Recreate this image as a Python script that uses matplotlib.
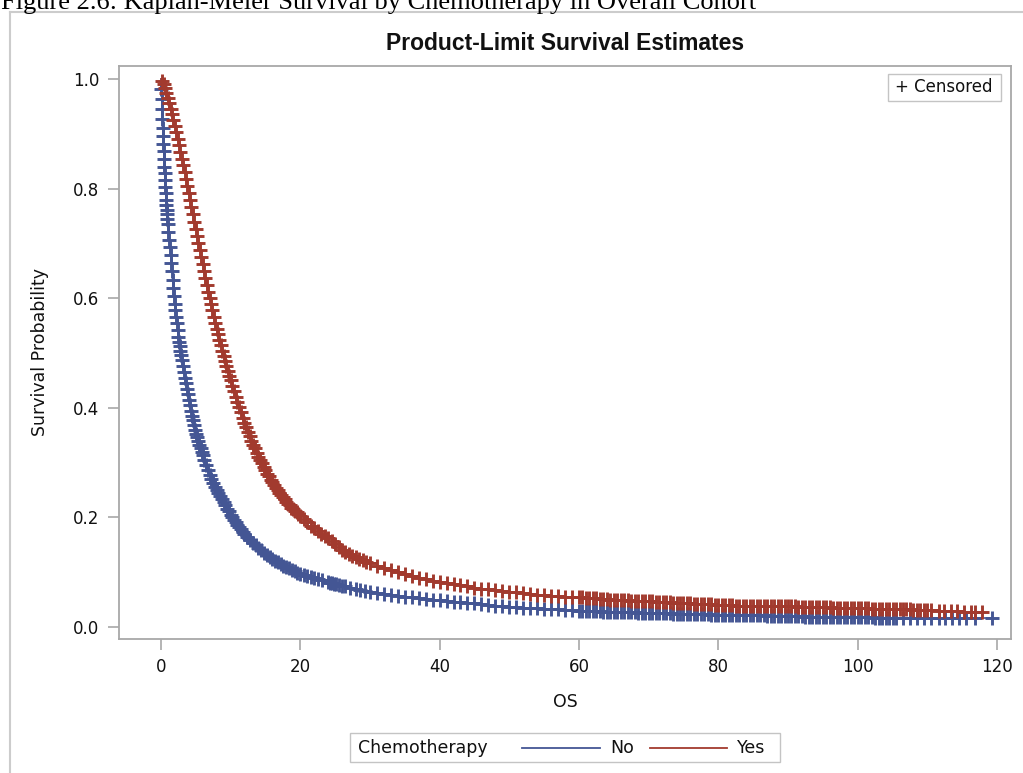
import numpy as np
import matplotlib.pyplot as plt
from matplotlib.lines import Line2D
from matplotlib.patches import Rectangle

# Kaplan-Meier estimates (months, survival)
no_time = [
    0.00, 0.05, 0.10, 0.15, 0.20, 0.25, 0.30, 0.35, 0.40, 0.45,
    0.50, 0.55, 0.60, 0.65, 0.70, 0.75, 0.80, 0.85, 0.90, 0.95,
    1.00, 1.1, 1.2, 1.3, 1.4, 1.5, 1.6, 1.7, 1.8, 1.9,
    2.0, 2.1, 2.2, 2.3, 2.4, 2.5, 2.6, 2.7, 2.8, 2.9,
    3.0, 3.15, 3.3, 3.45, 3.6, 3.75, 3.9, 4.05, 4.2, 4.35,
    4.5, 4.65, 4.8, 4.95, 5.1, 5.25, 5.4, 5.55, 5.7, 5.85,
    6.0, 6.25, 6.5, 6.75, 7.0, 7.25, 7.5, 7.75, 8.0, 8.25,
    8.5, 8.75, 9.0, 9.25, 9.5, 9.75, 10.0, 10.25, 10.5, 10.75,
    11.0, 11.25, 11.5, 11.75, 12.0, 12.4, 12.8, 13.2, 13.6, 14.0,
    14.4, 14.8, 15.2, 15.6, 16.0, 16.4, 16.8, 17.2, 17.6, 18.0,
    18.4, 18.8, 19.2, 19.6, 20.0, 20.5, 21.0, 21.6, 22.0, 22.5,
    23.2, 24.0, 24.3, 24.6, 24.9, 25.2, 25.6, 26.0, 26.5, 27.2,
    28.0, 28.6, 29.3, 30.0, 31, 32, 33, 34, 35, 36,
    37, 38, 39, 40, 41, 42, 43, 44, 45, 46,
    47, 48, 49, 50, 51, 52, 53, 54, 55, 56,
    57, 58, 59, 60, 60.5, 61, 61.5, 62, 62.5, 63,
    63.5, 64, 64.5, 65, 65.5, 66, 66.5, 67, 67.5, 68,
    68.5, 69, 69.5, 70, 70.5, 71, 71.5, 72, 72.5, 73,
    73.5, 74, 74.5, 75, 75.5, 76, 76.5, 77, 77.5, 78,
    78.5, 79, 79.5, 80, 80.5, 81, 81.5, 82, 82.5, 83,
    83.5, 84, 84.5, 85, 85.5, 86, 86.5, 87, 87.5, 88,
    88.5, 89, 89.5, 90, 90.5, 91, 91.5, 92, 92.5, 93,
    93.5, 94, 94.5, 95, 95.5, 96, 96.5, 97, 97.5, 98,
    98.5, 99, 99.5, 100, 100.5, 101, 101.5, 102, 102.5, 103,
    103.5, 104, 104.5, 105, 105.5, 106.5, 107.5, 108.5, 109.5, 110.5,
    111.7, 112.6, 113.6, 114.6, 115.5, 116.9, 119.3,
]
no_surv = [
    1.000, .982, .964, .946, .928, .910, .896, .882, .868, .854,
    .840, .828, .816, .804, .792, .780, .771, .762, .753, .744,
    .735, .721, .707, .693, .679, .665, .649, .633, .618, .604,
    .590, .578, .566, .554, .542, .530, .521, .512, .504, .496,
    .488, .477, .466, .455, .445, .435, .425, .415, .405, .395,
    .385, .377, .368, .360, .352, .346, .339, .333, .326, .320,
    .313, .304, .295, .286, .278, .270, .263, .256, .250, .244,
    .239, .233, .228, .222, .216, .211, .205, .200, .195, .191,
    .186, .182, .178, .174, .170, .164, .159, .154, .149, .144,
    .140, .135, .131, .127, .124, .121, .118, .115, .112, .109,
    .107, .104, .102, .099, .097, .095, .093, .091, .089, .087,
    .085, .082, .081, .080, .079, .078, .077, .075, .074, .072,
    .069, .068, .066, .064, .062, .060, .058, .056, .055, .054,
    .053, .051, .050, .049, .047, .046, .045, .044, .043, .042,
    .040, .039, .038, .037, .036, .035, .034, .034, .033, .032,
    .032, .031, .031, .030, .030, .030, .029, .029, .029, .029,
    .028, .028, .028, .028, .028, .027, .027, .027, .027, .027,
    .026, .026, .026, .026, .026, .025, .025, .025, .025, .025,
    .024, .024, .024, .024, .024, .023, .023, .023, .023, .023,
    .023, .022, .022, .022, .022, .022, .022, .022, .022, .021,
    .021, .021, .021, .021, .021, .021, .021, .020, .020, .020,
    .020, .020, .020, .020, .020, .020, .020, .020, .019, .019,
    .019, .019, .019, .019, .019, .019, .019, .018, .018, .018,
    .018, .018, .018, .018, .018, .018, .018, .018, .017, .017,
    .017, .017, .017, .017, .017, .017, .017, .017, .017, .016,
    .016, .016, .016, .016, .016, .016, .016,
]
yes_time = [
    0.0, 0.2, 0.4, 0.6, 0.8, 1.0, 1.2, 1.4, 1.6, 1.8,
    2.0, 2.2, 2.4, 2.6, 2.8, 3.0, 3.2, 3.4, 3.6, 3.8,
    4.0, 4.2, 4.4, 4.6, 4.8, 5.0, 5.2, 5.4, 5.6, 5.8,
    6.0, 6.2, 6.4, 6.6, 6.8, 7.0, 7.2, 7.4, 7.6, 7.8,
    8.0, 8.2, 8.4, 8.6, 8.8, 9.0, 9.2, 9.4, 9.6, 9.8,
    10.0, 10.25, 10.5, 10.75, 11.0, 11.25, 11.5, 11.75, 12.0, 12.25,
    12.5, 12.75, 13.0, 13.25, 13.5, 13.75, 14.0, 14.25, 14.5, 14.75,
    15.0, 15.25, 15.5, 15.75, 16.0, 16.25, 16.5, 16.75, 17.0, 17.25,
    17.5, 17.75, 18.0, 18.25, 18.5, 18.75, 19.0, 19.25, 19.5, 19.75,
    20.0, 20.5, 21.0, 21.5, 22.0, 22.5, 23.0, 23.5, 24.0, 24.5,
    25.0, 25.5, 26.0, 26.5, 27.0, 27.5, 28.0, 28.5, 29.0, 29.5,
    30, 31, 32, 33, 34, 35, 36, 37, 38, 39,
    40, 41, 42, 43, 44, 45, 46, 47, 48, 49,
    50, 51, 52, 53, 54, 55, 56, 57, 58, 59,
    60, 60.5, 61, 61.5, 62, 62.5, 63, 63.5, 64, 64.5,
    65, 65.5, 66, 66.5, 67, 67.5, 68, 68.5, 69, 69.5,
    70, 70.5, 71, 71.5, 72, 72.5, 73, 73.5, 74, 74.5,
    75, 75.5, 76, 76.5, 77, 77.5, 78, 78.5, 79, 79.5,
    80, 80.5, 81, 81.5, 82, 82.5, 83, 83.5, 84, 84.5,
    85, 85.5, 86, 86.5, 87, 87.5, 88, 88.5, 89, 89.5,
    90, 90.5, 91, 91.5, 92, 92.5, 93, 93.5, 94, 94.5,
    95, 95.5, 96, 96.5, 97, 97.5, 98, 98.5, 99, 99.5,
    100, 100.5, 101, 101.5, 102, 102.5, 103, 103.5, 104, 104.5,
    105, 105.5, 106, 106.5, 107, 107.5, 108, 108.5, 109, 109.5,
    110, 110.5, 111.7, 112.4, 113.4, 114.3, 115.3, 116.2, 116.9, 117.9,
]
yes_surv = [
    1.000, .997, .992, .984, .975, .965, .956, .946, .936, .926,
    .915, .903, .891, .879, .867, .855, .843, .830, .818, .805,
    .792, .779, .766, .753, .740, .727, .714, .701, .688, .675,
    .662, .650, .637, .625, .612, .600, .589, .578, .566, .555,
    .544, .534, .524, .514, .504, .494, .485, .476, .468, .459,
    .450, .440, .430, .420, .410, .401, .392, .382, .373, .365,
    .356, .348, .340, .333, .326, .318, .311, .305, .299, .292,
    .286, .280, .275, .269, .264, .259, .254, .250, .245, .241,
    .237, .233, .229, .225, .222, .218, .215, .212, .209, .206,
    .203, .197, .191, .185, .180, .175, .170, .166, .162, .157,
    .151, .146, .140, .137, .133, .130, .127, .124, .122, .119,
    .117, .112, .108, .104, .100, .096, .093, .090, .087, .084,
    .082, .080, .078, .076, .074, .072, .070, .069, .067, .066,
    .064, .063, .062, .060, .059, .058, .057, .056, .055, .055,
    .054, .054, .053, .053, .052, .052, .051, .051, .051, .050,
    .050, .050, .049, .049, .049, .048, .048, .048, .047, .047,
    .047, .047, .046, .046, .045, .045, .045, .044, .044, .044,
    .043, .043, .043, .042, .042, .042, .041, .041, .041, .040,
    .040, .040, .040, .040, .040, .039, .039, .039, .039, .039,
    .039, .039, .039, .039, .038, .038, .038, .038, .038, .038,
    .038, .038, .038, .037, .037, .037, .037, .037, .036, .036,
    .036, .036, .036, .035, .035, .035, .035, .035, .034, .034,
    .034, .034, .034, .034, .033, .033, .033, .033, .033, .033,
    .032, .032, .032, .032, .032, .032, .031, .031, .031, .031,
    .031, .031, .030, .030, .029, .029, .028, .028, .027, .027,
]

groups = ['No', 'Yes']
colors = ['#445694', '#A23A2E']
x_ticks = [0, 20, 40, 60, 80, 100, 120]
y_ticks = [0.0, 0.2, 0.4, 0.6, 0.8, 1.0]

W, H = 1023, 773
gray = '#a8a8a8'


def fx(px):
    return px / W


def fy(py):
    return 1 - py / H


plt.rcParams['font.family'] = 'DejaVu Sans'
fig = plt.figure(figsize=(W / 100, H / 100), dpi=100)
ax = fig.add_axes([fx(119), fy(639), (1011 - 119) / W, (639 - 66) / H])

curves = [(no_time, no_surv), (yes_time, yes_surv)]
for (t, s), c in zip(curves, colors):
    t = np.asarray(t)
    s = np.asarray(s)
    ax.plot(t, s, drawstyle='steps-post', color=c, lw=1.2, zorder=2)
    ax.plot(t[1:], s[1:], ls='none', marker='+', ms=10, mew=2.1,
            color=c, zorder=3)

ax.set_xlim(-6, 122)
ax.set_ylim(-0.022, 1.024)
ax.set_xticks(x_ticks)
ax.set_yticks(y_ticks)
ax.set_yticklabels(['%.1f' % v for v in y_ticks])
ax.tick_params(length=8, width=1.2, color=gray, labelsize=12, pad=6,
               labelcolor='#111111')
for sp in ax.spines.values():
    sp.set_color(gray)
    sp.set_linewidth(1.3)

ax.set_xlabel('OS', fontsize=12.5, color='#111111')
ax.xaxis.set_label_coords(0.5, (639 - 693) / 573)
ax.set_ylabel('Survival Probability', fontsize=12.5, color='#111111')
ax.yaxis.set_label_coords((49 - 119) / 892, 0.5)

# censored key inside the plot area
fig.add_artist(Rectangle((fx(888), fy(101)), 113 / W, 27 / H,
                         transform=fig.transFigure, fc='white',
                         ec='#c4c4c4', lw=1.0, zorder=5))
fig.text(fx(895), fy(87.5), '+ Censored', fontsize=12, va='center',
         ha='left', color='#111111', zorder=6)

# title and caption
fig.text(fx(565), fy(44), 'Product-Limit Survival Estimates',
         ha='center', va='center', fontsize=16.5, weight='bold',
         family='Liberation Sans', color='#111111')
fig.text(fx(1), fy(9), 'Figure 2.6: Kaplan-Meier Survival by Chemotherapy '
         'in Overall Cohort', family='Liberation Serif', fontsize=19,
         va='baseline', ha='left', color='black')

# outer frame
fig.add_artist(Line2D([fx(10), 1], [fy(12), fy(12)],
                      transform=fig.transFigure, color='#cccccc', lw=1.5))
fig.add_artist(Line2D([fx(10), fx(10)], [fy(12), 0],
                      transform=fig.transFigure, color='#cccccc', lw=1.5))

# group legend under the axes
fig.add_artist(Rectangle((fx(350), fy(762)), 430 / W, 29 / H,
                         transform=fig.transFigure, fc='white',
                         ec='#c4c4c4', lw=1.0))
ly = fy(748)
fig.text(fx(358), ly, 'Chemotherapy', fontsize=12.5, va='center',
         color='#111111')
key_x = [(522, 600, 610), (650, 727, 737)]
for (x0, x1, xt), g, c in zip(key_x, groups, colors):
    fig.add_artist(Line2D([fx(x0), fx(x1)], [ly, ly],
                          transform=fig.transFigure, color=c, lw=1.3))
    fig.text(fx(xt), ly, g, fontsize=12.5, va='center', color='#111111')

fig.savefig('out.png', dpi=100)
